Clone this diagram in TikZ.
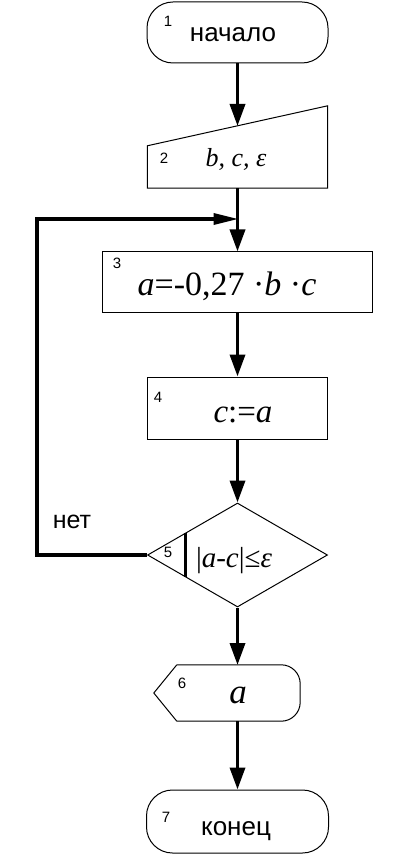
\documentclass[tikz,border=0pt]{standalone}
\usepackage{fontspec}
\setmainfont{Liberation Serif}
\newfontfamily\sansf{Liberation Sans}
\usetikzlibrary{arrows.meta,shapes.geometric,calc}
\begin{document}
\begin{tikzpicture}[x=1pt,y=-1pt,
  box/.style={draw, line width=1pt, inner sep=0pt},
  term/.style={box, rounded corners=26pt},
  ghost/.style={inner sep=0pt},
  arr/.style={line width=3.5pt, -{Triangle[length=22pt,width=15pt]}},
  looparr/.style={line width=3.5pt, -{Triangle[length=25pt,width=11pt]}},
  num/.style={font=\sansf\fontsize{15}{15}\selectfont, inner sep=0pt},
  lbl/.style={font=\sansf\fontsize{#1}{#1}\selectfont, inner sep=0pt, anchor=base},
  mth/.style={font=\fontsize{#1}{#1}\selectfont, inner sep=0pt, anchor=base},
]
\useasboundingbox (0,0) rectangle (407,858);

% shapes
\node[term, minimum width=181pt, minimum height=61pt] (n1) at (237.5,32.5) {};
\node[ghost, minimum width=180pt, minimum height=82pt] (n2) at (237.5,147) {};
\draw[line width=1pt] ($(n2.north west)+(0,40)$) -- (n2.north east) -- (n2.south east) -- (n2.south west) -- cycle;
\node[box, minimum width=270pt, minimum height=60pt] (n3) at (237.5,282) {};
\node[box, minimum width=180pt, minimum height=62pt] (n4) at (237.5,408) {};
\node[box, diamond, minimum width=180pt, minimum height=104pt] (n5) at (237.5,555) {};
\node[ghost, minimum width=146pt, minimum height=56pt] (n6) at (227,693) {};
\draw[line width=1pt, rounded corners=19pt] ($(n6.north west)+(23,0)$) -- (n6.north east) -- (n6.south east) -- ($(n6.south west)+(23,0)$);
\draw[line width=1pt] ($(n6.south west)+(23,0)$) -- (n6.west) -- ($(n6.north west)+(23,0)$);
\node[term, minimum width=182pt, minimum height=63pt] (n7) at (237.5,821.5) {};

% connector points
\coordinate (n2in) at (237.5,126);
\coordinate (n6in) at (237.5,665);
\coordinate (n6out) at (237.5,721);
\coordinate (j) at (238.5,219);
\coordinate (lc) at (37,219);

% connectors
\draw[arr] (n1.south) -- (n2in);
\draw[arr] (n2.south) -- (n3.north);
\draw[arr] (n3.south) -- (n4.north);
\draw[arr] (n4.south) -- (n5.north);
\draw[arr] (n5.south) -- (n6in);
\draw[arr] (n6out) -- (n7.north);
\draw[looparr] (n5.west) -| (lc) -- (j);

% numbers
\node[num] (k1) at (168,21) {1};
\node[num] (k2) at (164,158) {2};
\node[num] (k3) at (117,263) {3};
\node[num] (k4) at (158,397) {4};
\node[num] (k5) at (168,552) {5};
\node[num] (k6) at (182,683) {6};
\node[num] (k7) at (166,817) {7};

% texts
\node[lbl=26] (t1) at (233,42) {начало};
\node[mth=26] (t2) at (236,167) {\itshape b, c, ε};
\node[mth=34] (t3) at (227,295) {\textit{a}=-0,27 ·\textit{b} ·\textit{c}};
\node[mth=33] (t4) at (243,422) {\textit{c}:=\textit{a}};
\draw[line width=3pt] (185,533) -- (185,577);
\node[mth=29] (t5) at (234,567) {|\textit{a}-\textit{c}|≤\textit{ε}};
\node[lbl=25] (tn) at (72,528) {нет};
\node[mth=35] (t6) at (238,703) {\textit{a}};
\node[lbl=26] (t7) at (236,835) {конец};
\end{tikzpicture}
\end{document}
